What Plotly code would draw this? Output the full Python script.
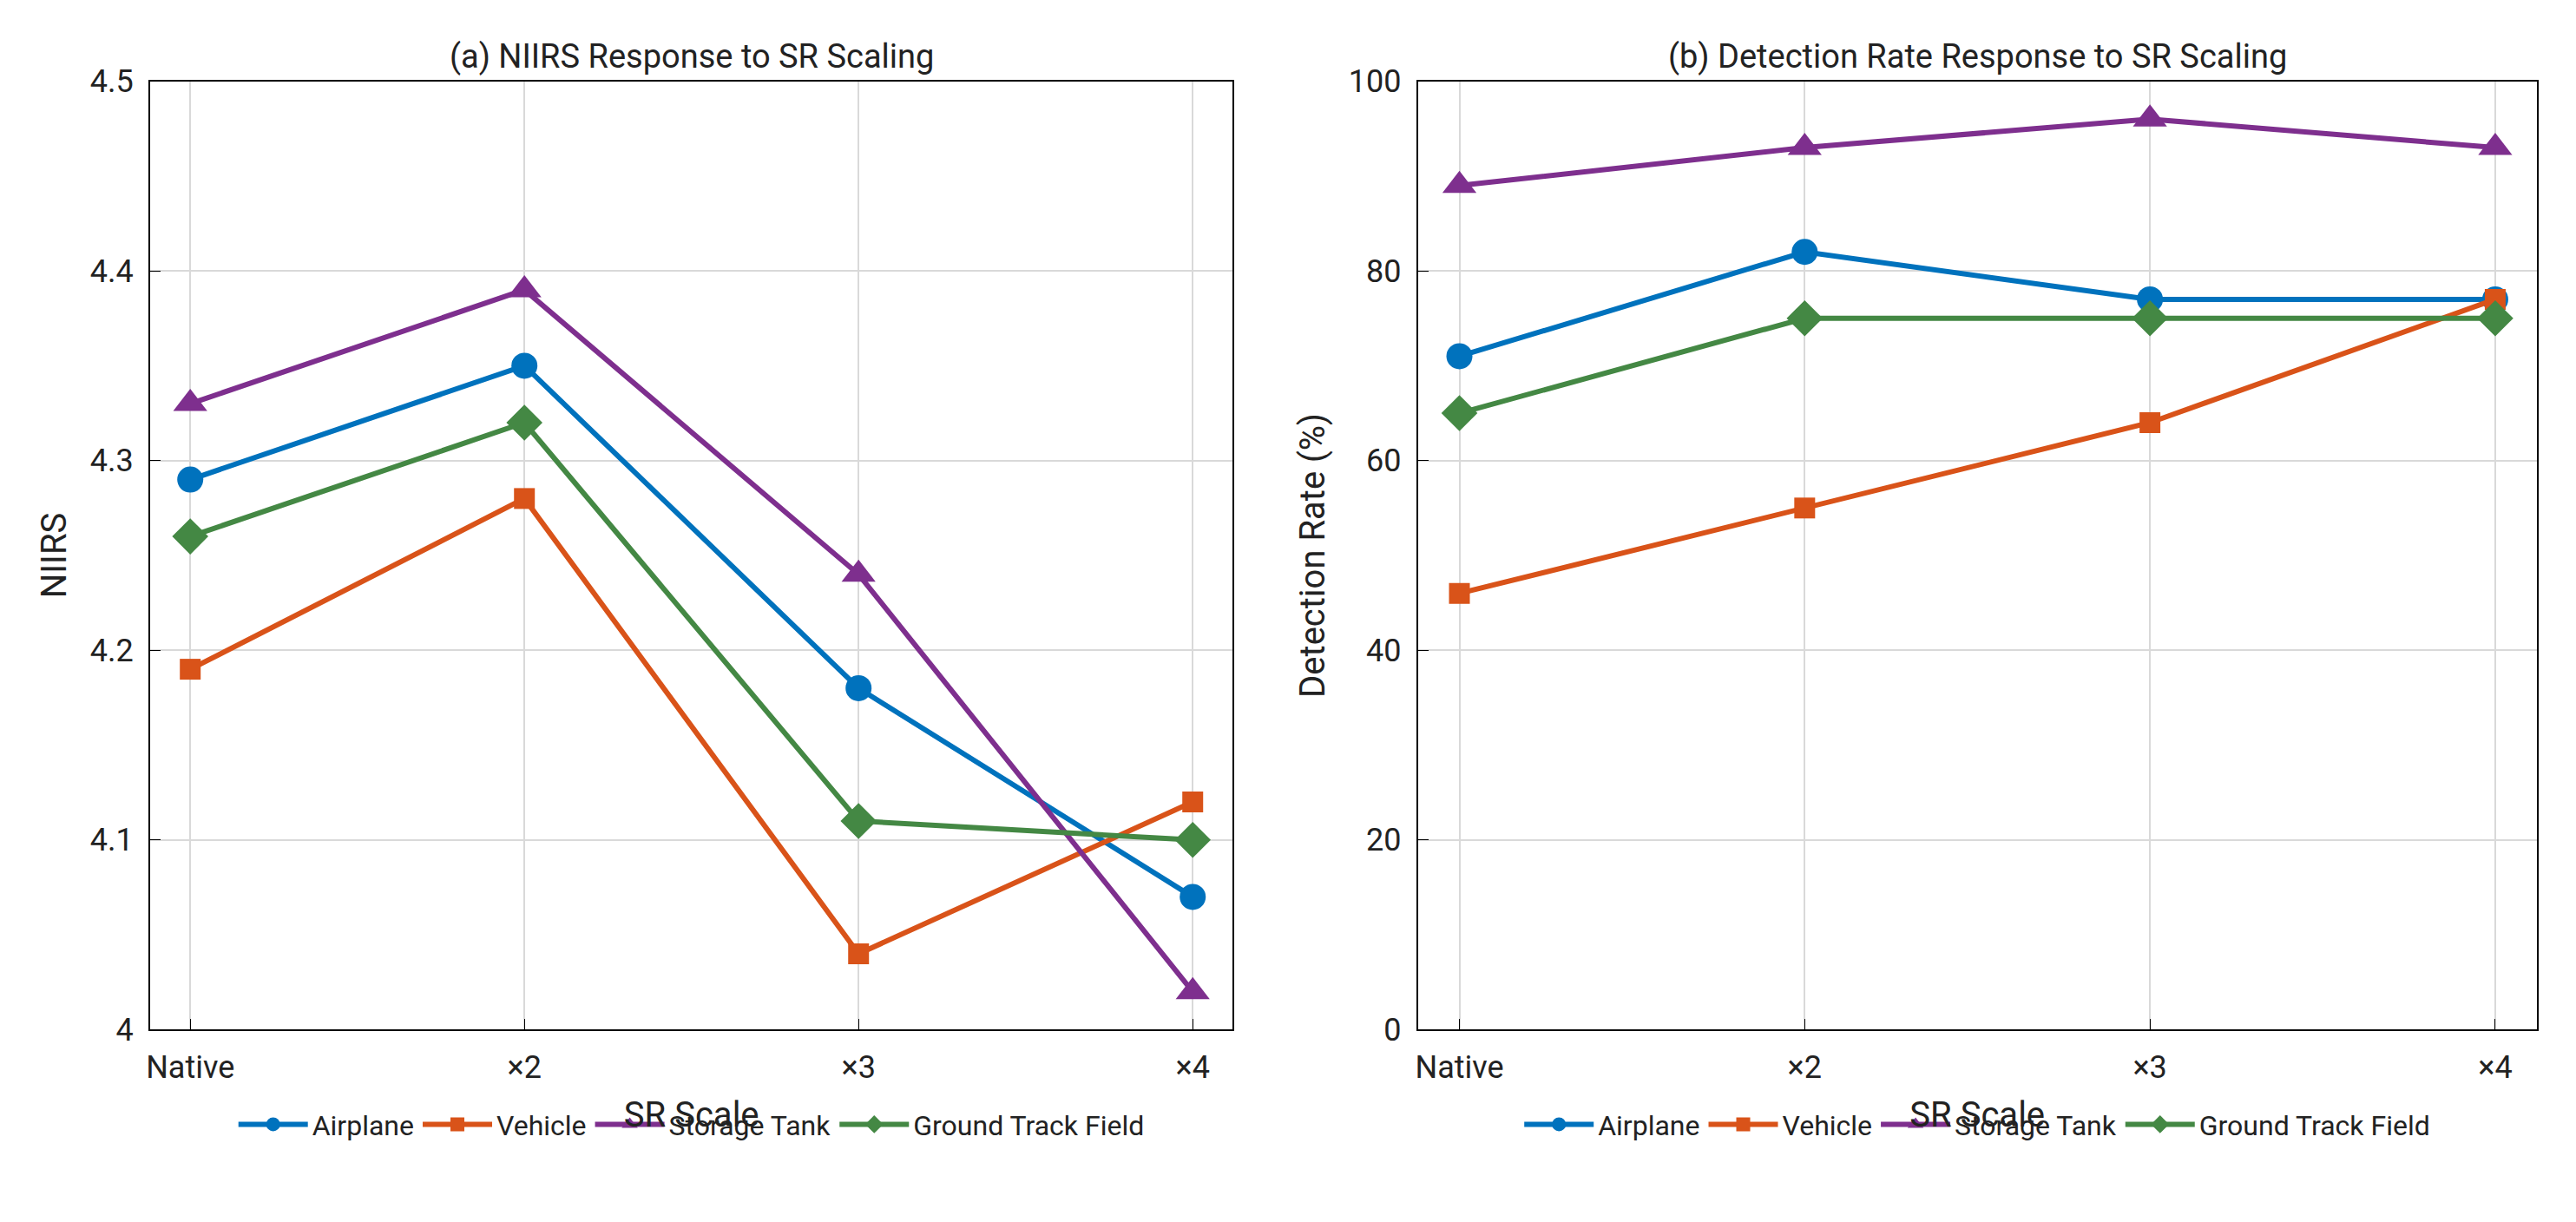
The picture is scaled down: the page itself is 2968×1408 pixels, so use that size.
import plotly.graph_objects as go

# Data
scales = ["Native", "×2", "×3", "×4"]
classes = ["Airplane", "Vehicle", "Storage Tank", "Ground Track Field"]
niirs_airplane = [4.29, 4.35, 4.18, 4.07]
niirs_vehicle = [4.19, 4.28, 4.04, 4.12]
niirs_tank = [4.33, 4.39, 4.24, 4.02]
niirs_gtf = [4.26, 4.32, 4.11, 4.10]
det_airplane = [71, 82, 77, 77]
det_vehicle = [46, 55, 64, 77]
det_tank = [89, 93, 96, 93]
det_gtf = [65, 75, 75, 75]

colors = ["#0072BD", "#D95319", "#7E2F8E", "#448844"]
symbols = ["circle", "square", "triangle-up", "diamond"]
msizes = [30, 24, 34, 32]
xpos = list(range(len(scales)))

fig = go.Figure()
panels = [
    ("x", "y", "legend", [niirs_airplane, niirs_vehicle, niirs_tank, niirs_gtf]),
    ("x2", "y2", "legend2", [det_airplane, det_vehicle, det_tank, det_gtf]),
]
for xa, ya, leg, series in panels:
    for name, vals, c, s, ms in zip(classes, series, colors, symbols, msizes):
        fig.add_trace(go.Scatter(
            x=xpos, y=vals, name=name, xaxis=xa, yaxis=ya, legend=leg,
            mode="lines+markers",
            line=dict(color=c, width=6),
            marker=dict(symbol=s, size=ms, color=c),
        ))

axis_common = dict(
    showline=True, linecolor="black", linewidth=2, mirror=True,
    ticks="inside", ticklen=12, tickcolor="black",
    showgrid=True, gridcolor="#d9d9d9", gridwidth=2, zeroline=False,
    tickfont=dict(size=36, color="#222"),
    title_font=dict(size=40, color="#222"),
    ticklabelstandoff=10,
)
xcommon = dict(axis_common, tickmode="array", tickvals=xpos, ticktext=scales,
               range=[-0.12, 3.12], title_text="SR Scale", title_standoff=20)

fig.update_layout(
    width=2968, height=1408,
    plot_bgcolor="white", paper_bgcolor="white",
    font=dict(family="Roboto, Arial", color="#222"),
    margin=dict(l=0, r=0, t=0, b=0),
    xaxis=dict(xcommon, domain=[0.054, 0.475], anchor="y"),
    yaxis=dict(axis_common, domain=[0.152, 0.952], anchor="x", range=[4, 4.5],
               dtick=0.1, tickformat="~g", title_text="NIIRS"),
    xaxis2=dict(xcommon, domain=[0.547, 0.982], anchor="y2"),
    yaxis2=dict(axis_common, domain=[0.152, 0.952], anchor="x2", range=[0, 100],
                dtick=20, title_text="Detection Rate (%)"),
    legend=dict(orientation="h", x=0.2645, xanchor="center", y=0.072, yanchor="middle",
                font=dict(size=32), itemwidth=80),
    legend2=dict(orientation="h", x=0.7645, xanchor="center", y=0.072, yanchor="middle",
                 font=dict(size=32), itemwidth=80),
    annotations=[
        dict(text="(a) NIIRS Response to SR Scaling", x=0.2645, y=0.955, xref="paper",
             yref="paper", xanchor="center", yanchor="bottom", showarrow=False,
             font=dict(size=38, color="#222")),
        dict(text="(b) Detection Rate Response to SR Scaling", x=0.7645, y=0.955, xref="paper",
             yref="paper", xanchor="center", yanchor="bottom", showarrow=False,
             font=dict(size=38, color="#222")),
    ],
)

fig.write_html("out.html")
